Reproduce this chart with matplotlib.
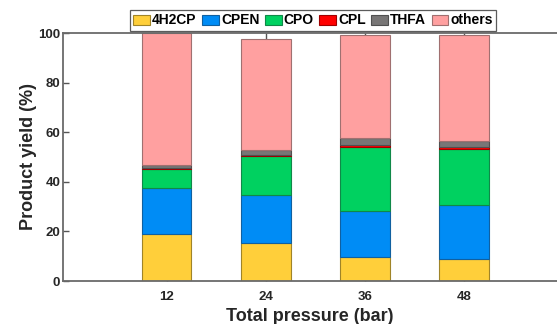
import numpy as np
import matplotlib
matplotlib.use("Agg")
import matplotlib.pyplot as plt

plt.rcParams['font.family'] = ['Liberation Sans', 'DejaVu Sans']
plt.rcParams['font.weight'] = 'bold'

# Datos (rendimiento en %)
presiones = ["12", "24", "36", "48"]
y_4h2cp = [19.0, 15.5, 9.5, 8.7]
y_cpen = [18.4, 19.1, 18.6, 21.8]
y_cpo = [7.9, 15.8, 26.1, 22.9]
y_cpl = [0.1, 0.4, 0.6, 0.5]
y_thfa = [1.5, 2.0, 2.9, 2.6]
y_others = [53.0, 44.7, 41.5, 42.6]

nombres = ["4H2CP", "CPEN", "CPO", "CPL", "THFA", "others"]
colores = ['#FFCF3A', '#008CF5', '#00D160', '#FF0000', '#787676', '#FFA0A0']
bordes = ['#A08428', '#1060A0', '#108848', '#A00000', '#505050', '#A07070']

series = [y_4h2cp, y_cpen, y_cpo, y_cpl, y_thfa, y_others]

fig = plt.figure(figsize=(5.57, 3.24), dpi=100)
ax = fig.add_axes([63 / 557, 43 / 324, 494 / 557, 248 / 324])

x = np.arange(len(presiones))
base = np.zeros(len(presiones))
for vals, nom, col, bc in zip(series, nombres, colores, bordes):
    ax.bar(x, vals, width=0.5, bottom=base, color=col, edgecolor=bc,
           linewidth=0.8, label=nom, zorder=2)
    base += np.array(vals)

ax.set_xlim(-1.044, 3.937)
ax.set_ylim(0, 100)
ax.set_xticks(x)
ax.set_xticklabels(presiones)
ax.set_yticks([0, 20, 40, 60, 80, 100])

for lado in ['left', 'bottom', 'top']:
    ax.spines[lado].set_color('#6a6a6a')
    ax.spines[lado].set_linewidth(1.3)
ax.spines['right'].set_visible(False)

ax.tick_params(direction='in', top=True, right=False, length=4, width=1,
               color='#555555', labelsize=9.5, labelcolor='#262626')
ax.tick_params(axis='x', pad=7)
ax.tick_params(axis='y', pad=2)
for t in ax.get_xticklabels() + ax.get_yticklabels():
    t.set_fontweight('bold')

ax.set_xlabel("Total pressure (bar)", fontsize=13, fontweight='bold',
              color='#262626', labelpad=4)
ax.set_ylabel("Product yield (%)", fontsize=13, fontweight='bold',
              color='#262626', labelpad=1)

leg = fig.legend(loc='upper left', bbox_to_anchor=(130 / 557, 1 - 10 / 324),
                 ncol=6, fontsize=10, frameon=True, fancybox=False,
                 handlelength=1.2, handleheight=0.75, handletextpad=0.15,
                 columnspacing=0.4, borderpad=0.25, borderaxespad=0)
leg.get_frame().set_edgecolor('#333333')
leg.get_frame().set_linewidth(0.9)
for t in leg.get_texts():
    t.set_fontweight('bold')

fig.savefig("out.png", dpi=100)
